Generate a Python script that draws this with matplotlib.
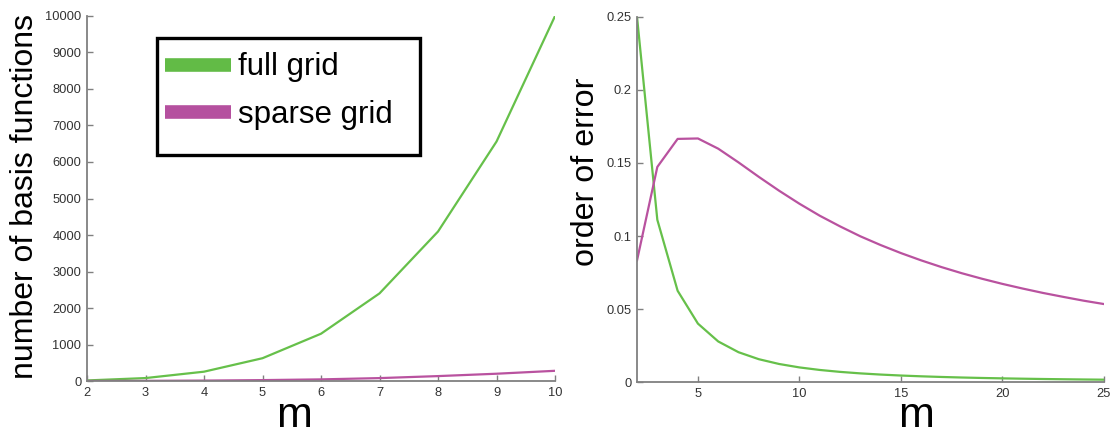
import matplotlib
matplotlib.use("Agg")
import matplotlib.pyplot as plt
from matplotlib.lines import Line2D
from matplotlib.patches import Rectangle

plt.rcParams['font.family'] = ['Liberation Sans', 'DejaVu Sans']

# number of basis functions vs m
m_count = [2, 3, 4, 5, 6, 7, 8, 9, 10]
full_count = [16, 81, 256, 625, 1296, 2401, 4096, 6561, 10000]
sparse_count = [1, 5, 12, 25, 45, 80, 135, 200, 280]

# order of error vs m
m_err = list(range(2, 26))
full_err = [0.25, 0.1111, 0.0625, 0.04, 0.02778, 0.02041, 0.015625, 0.012346,
            0.01, 0.008264, 0.006944, 0.005917, 0.005102, 0.004444, 0.003906,
            0.00346, 0.003086, 0.00277, 0.0025, 0.002268, 0.002066, 0.00189,
            0.001736, 0.0016]
sparse_err = [0.0833, 0.1473, 0.1665, 0.1668, 0.1598, 0.1504, 0.1405, 0.1310,
              0.1221, 0.1139, 0.1066, 0.0998, 0.0938, 0.0883, 0.0833, 0.0787,
              0.0745, 0.0707, 0.0672, 0.0640, 0.0610, 0.0583, 0.0557, 0.0534]

left_ticks = [0, 1000, 2000, 3000, 4000, 5000, 6000, 7000, 8000, 9000, 10000]
left_xticks = [2, 3, 4, 5, 6, 7, 8, 9, 10]
right_ticks = [0, 0.05, 0.1, 0.15, 0.2, 0.25]
right_tick_labels = ['0', '0.05', '0.1', '0.15', '0.2', '0.25']
right_xticks = [5, 10, 15, 20, 25]
series_names = ['full grid', 'sparse grid']

GREEN = '#66C04A'
MAGENTA = '#B9529F'
SPINE = '#808080'
TICKTXT = '#333333'

fig = plt.figure(figsize=(11.17, 4.32), dpi=100)
ax1 = fig.add_axes([0.0779, 0.118, 0.419, 0.845])
ax2 = fig.add_axes([0.5703, 0.1157, 0.418, 0.845])


def style(ax):
    for side in ('top', 'right'):
        ax.spines[side].set_visible(False)
    for side in ('left', 'bottom'):
        ax.spines[side].set_color(SPINE)
        ax.spines[side].set_linewidth(1.3)
    ax.tick_params(direction='in', length=4, width=1, color=SPINE,
                   labelsize=9.3, labelcolor=TICKTXT, pad=4)


ax1.plot(m_count, full_count, color=GREEN, lw=1.6)
ax1.plot(m_count, sparse_count, color=MAGENTA, lw=1.6)
ax1.set_xlim(2, 10)
ax1.set_ylim(0, 10000)
ax1.set_xticks(left_xticks)
ax1.set_yticks(left_ticks)
style(ax1)
ax1.set_ylabel('number of basis functions', fontsize=23)
ax1.yaxis.set_label_coords(-0.1015, 0.505)

# legend entries without frame, boxed by a heavy black rectangle
handles = [Line2D([], [], color='#62BB46', lw=9.8, solid_capstyle='butt'),
           Line2D([], [], color='#B5509F', lw=9.8, solid_capstyle='butt')]
leg = ax1.legend(handles, series_names, loc='upper left',
                 bbox_to_anchor=(0.1667, 0.90), borderaxespad=0, borderpad=0,
                 fontsize=22.5, handlelength=2.1, handletextpad=0.25,
                 labelspacing=0.55, frameon=False)
ax1.add_patch(Rectangle((0.1496, 0.619), 0.5619, 0.3207, transform=ax1.transAxes,
                        fill=False, edgecolor='black', lw=2.4, clip_on=False,
                        zorder=5))

ax2.plot(m_err, full_err, color=GREEN, lw=1.6)
ax2.plot(m_err, sparse_err, color=MAGENTA, lw=1.6)
ax2.set_xlim(2, 25)
ax2.set_ylim(0, 0.25)
ax2.set_xticks(right_xticks)
ax2.set_yticks(right_ticks)
ax2.set_yticklabels(right_tick_labels)
style(ax2)
ax2.set_ylabel('order of error', fontsize=23.2)
ax2.yaxis.set_label_coords(-0.078, 0.575)

# axis letter m under each plot
fig.text(0.2632, 0.011, 'm', fontsize=31, ha='center', va='baseline')
fig.text(0.820, 0.011, 'm', fontsize=31, ha='center', va='baseline')

fig.savefig('out.png', dpi=100)
